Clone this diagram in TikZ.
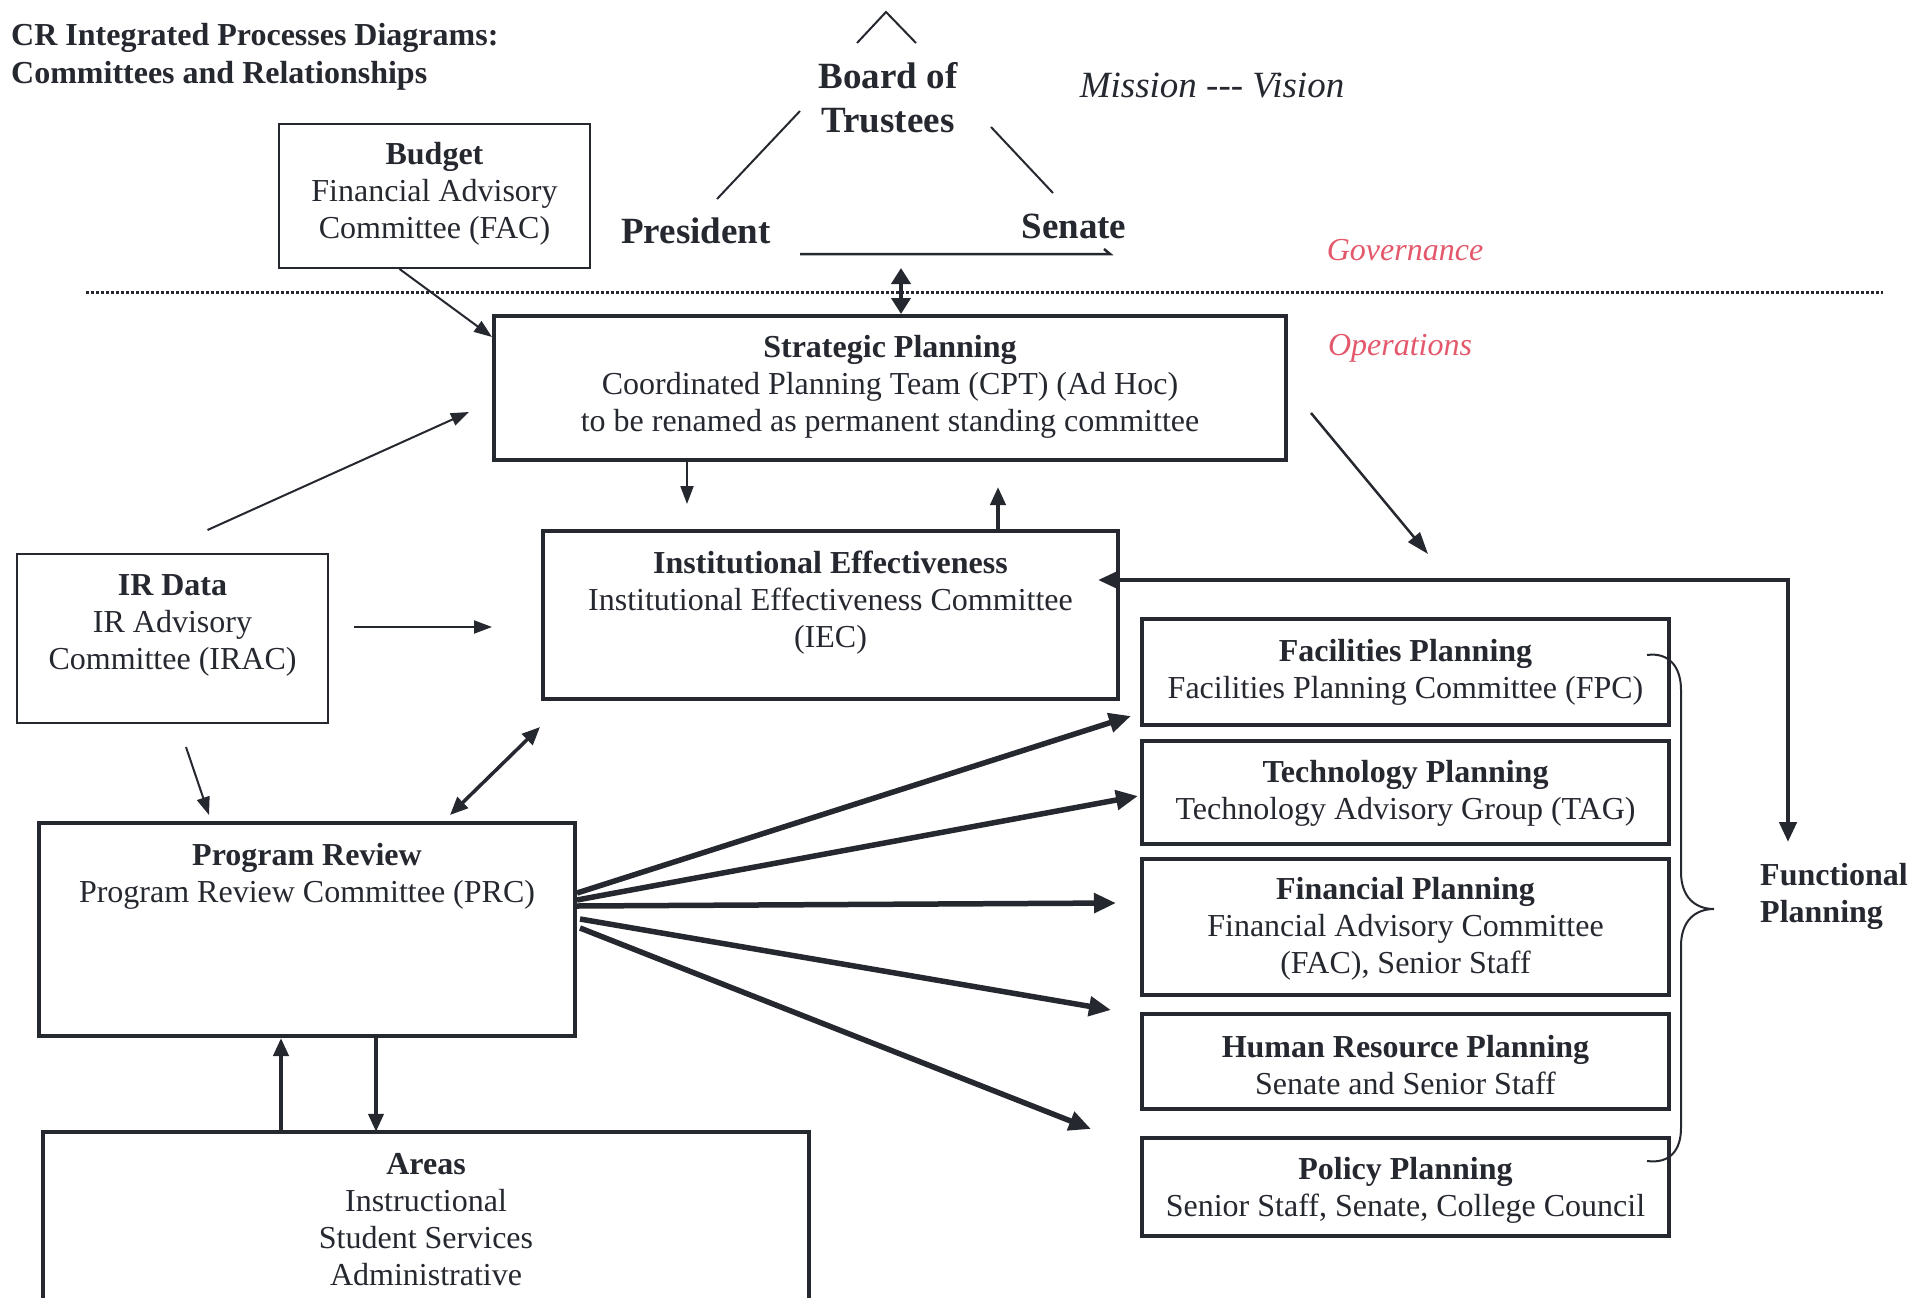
\documentclass[tikz,border=0pt]{standalone}
\usepackage{fontspec}
\setmainfont{Liberation Serif}
\usetikzlibrary{arrows.meta}
\definecolor{ink}{RGB}{38,40,48}
\definecolor{govred}{RGB}{228,88,108}
\begin{document}
\begin{tikzpicture}[x=1pt,y=-1pt,
  every node/.style={text=ink, font=\fontsize{32}{37}\selectfont, inner sep=0pt},
  txt/.style={align=center},
  thinbox/.style={draw=ink, line width=2pt, rectangle},
  thickbox/.style={draw=ink, line width=4pt, rectangle},
  thinarr/.style={draw=ink, line width=2pt, -{Triangle[length=18pt,width=13pt]}},
  medarr/.style={draw=ink, line width=3.5pt, {Triangle[length=18pt,width=15pt]}-{Triangle[length=18pt,width=15pt]}},
  boldarr/.style={draw=ink, line width=4pt, -{Triangle[length=18pt,width=15pt]}},
  fanarr/.style={draw=ink, line width=5.5pt, -{Triangle[length=22pt,width=19pt]}},
  twinarr/.style={draw=ink, line width=4.5pt, {Triangle[length=20pt,width=17pt]}-{Triangle[length=20pt,width=17pt]}},
  hd/.style={font=\fontsize{32}{37}\selectfont\bfseries},
  gov/.style={font=\fontsize{37}{44}\selectfont\bfseries},
  ital/.style={font=\fontsize{37}{44}\selectfont\itshape},
  red/.style={text=govred, font=\fontsize{32}{37}\selectfont\itshape}
]
\fill[white] (0,0) rectangle (1927,1298);
\useasboundingbox (0,0) rectangle (1927,1298);

% title
\node[hd, align=left, anchor=west, font=\fontsize{32}{38}\selectfont\bfseries] (title) at (11,57)
  {CR Integrated Processes Diagrams:\\Committees and Relationships};

% governance triangle
\node[gov, align=center] (bot) at (888,98) {Board of\\Trustees};
\node[gov] (pres) at (696,231) {President};
\node[gov] (sen) at (1074,226) {Senate};
\node[ital] (mission) at (1212,86) {Mission -{}-{}- Vision};
\node[red] (governance) at (1405,250) {Governance};
\node[red] (operations) at (1400,348) {Operations};

\draw[ink, line width=2pt] (857,43) -- (886,12) -- (916,43);
\draw[ink, line width=2pt] (717,199) -- (800,111);
\draw[ink, line width=2pt] (991,127) -- (1053,193);
\draw[ink, line width=2.5pt] (800,254) -- (1110,254) -- (1104,249);
\coordinate (govline) at (901,268);

% dotted divider
\draw[ink, line width=3pt, dash pattern=on 3pt off 2pt] (86,292) -- (1883,292);

% boxes
\node[thinbox, minimum width=311pt, minimum height=144pt] (budget) at (434.5,196) {};
\node[txt] (budgett) at (434.5,194) {\textbf{Budget}\\Financial Advisory\\Committee (FAC)};

\node[thickbox, minimum width=792pt, minimum height=144pt] (sp) at (890,388) {};
\node[txt] (spt) at (890,387) {\textbf{Strategic Planning}\\Coordinated Planning Team (CPT) (Ad Hoc)\\to be renamed as permanent standing committee};

\node[thickbox, minimum width=575pt, minimum height=168pt] (ie) at (830.5,615) {};
\node[txt] (iet) at (830.5,603) {\textbf{Institutional Effectiveness}\\Institutional Effectiveness Committee\\(IEC)};

\node[thinbox, minimum width=311pt, minimum height=169pt] (ir) at (172.5,638.5) {};
\node[txt] (irt) at (172.5,625) {\textbf{IR Data}\\IR Advisory\\Committee (IRAC)};

\node[thickbox, minimum width=536pt, minimum height=213pt] (pr) at (307,929.5) {};
\node[txt] (prt) at (307,876) {\textbf{Program Review}\\Program Review Committee (PRC)};

\node[minimum width=766pt, minimum height=166pt] (areas) at (426,1215) {};
\draw[ink, line width=4pt] (areas.south west) -- (areas.north west) -- (areas.north east) -- (areas.south east);
\node[txt] (areast) at (426,1220) {\textbf{Areas}\\Instructional\\Student Services\\Administrative};

% functional planning boxes
\node[thickbox, minimum width=527pt, minimum height=106pt] (fac) at (1405.5,672) {};
\node[txt] (fact) at (1405.5,672) {\textbf{Facilities Planning}\\Facilities Planning Committee (FPC)};
\node[thickbox, minimum width=527pt, minimum height=103pt] (tech) at (1405.5,792.5) {};
\node[txt] (techt) at (1405.5,793) {\textbf{Technology Planning}\\Technology Advisory Group (TAG)};
\node[thickbox, minimum width=527pt, minimum height=136pt] (fin) at (1405.5,927) {};
\node[txt] (fint) at (1405.5,929) {\textbf{Financial Planning}\\Financial Advisory Committee\\(FAC), Senior Staff};
\node[thickbox, minimum width=527pt, minimum height=95pt] (hr) at (1405.5,1061.5) {};
\node[txt] (hrt) at (1405.5,1065) {\textbf{Human Resource Planning}\\Senate and Senior Staff};
\node[thickbox, minimum width=527pt, minimum height=98pt] (pol) at (1405.5,1187) {};
\node[txt] (polt) at (1405.5,1190) {\textbf{Policy Planning}\\Senior Staff, Senate, College Council};

\node[hd, align=left, anchor=west] (fp) at (1760,896) {Functional\\Planning};

% brace
\draw[ink, line width=2pt] (1647,655) .. controls (1670,652) and (1681,668) .. (1681,690)
  -- (1681,872) .. controls (1681,897) and (1695,909) .. (1714,909)
  .. controls (1695,909) and (1681,921) .. (1681,946)
  -- (1681,1128) .. controls (1681,1150) and (1670,1164) .. (1647,1161);

% connectors
\draw[ink, line width=4pt, {Triangle[length=16pt,width=19pt]}-{Triangle[length=16pt,width=19pt]}]
  (govline) -- ([xshift=11pt]sp.north);
\draw[thinarr] ([xshift=-35pt]budget.south) -- ([yshift=-23pt]sp.north west);
\draw[thinarr] ([xshift=35pt,yshift=23pt]ir.north) -- ([xshift=-23pt,yshift=-24pt]sp.west);
\draw[thinarr] ([xshift=-203pt]sp.south) -- ([xshift=-143.5pt,yshift=25pt]ie.north);
\draw[boldarr] ([xshift=167.5pt]ie.north) -- ([xshift=108pt,yshift=-25pt]sp.south);
\draw[draw=ink, line width=2.5pt, -{Triangle[length=22pt,width=15pt]}]
  ([xshift=23pt,yshift=-25pt]sp.east) -- ([xshift=22.5pt,yshift=63pt]fac.north);
\draw[thinarr] ([xshift=25pt,yshift=11.5pt]ir.east) -- ([xshift=-49pt,yshift=-12pt]ie.west);
\draw[thinarr] ([xshift=13.5pt,yshift=-23pt]ir.south) -- ([xshift=-98pt,yshift=6pt]pr.north);
\draw[medarr] ([xshift=-1pt,yshift=-26pt]ie.south west) -- ([xshift=143pt,yshift=6pt]pr.north);
\draw[boldarr] ([xshift=-145pt]areas.north) -- ([xshift=-26pt]pr.south);
\draw[boldarr] ([xshift=69pt]pr.south) -- ([xshift=-50pt]areas.north);

\draw[fanarr] ([yshift=36.5pt]pr.east) -- ([xshift=-9pt,yshift=-44pt]fac.west);
\draw[fanarr] ([yshift=29.5pt]pr.east) -- ([xshift=-2pt,yshift=-3.5pt]tech.west);
\draw[fanarr] ([yshift=23.5pt]pr.east) -- ([xshift=-24pt,yshift=24pt]fin.west);
\draw[fanarr] ([xshift=3pt,yshift=10.5pt]pr.east) -- ([xshift=-29pt,yshift=51.5pt]hr.west);
\draw[fanarr] ([xshift=3pt,yshift=1.5pt]pr.east) -- ([xshift=-49pt,yshift=58pt]pol.west);

\coordinate (corner) at (1788,580);
\coordinate (fptip) at (1788,842);
\draw[twinarr] ([xshift=-22pt,yshift=35pt]ie.east) -- (corner) -- (fptip);
\end{tikzpicture}
\end{document}
